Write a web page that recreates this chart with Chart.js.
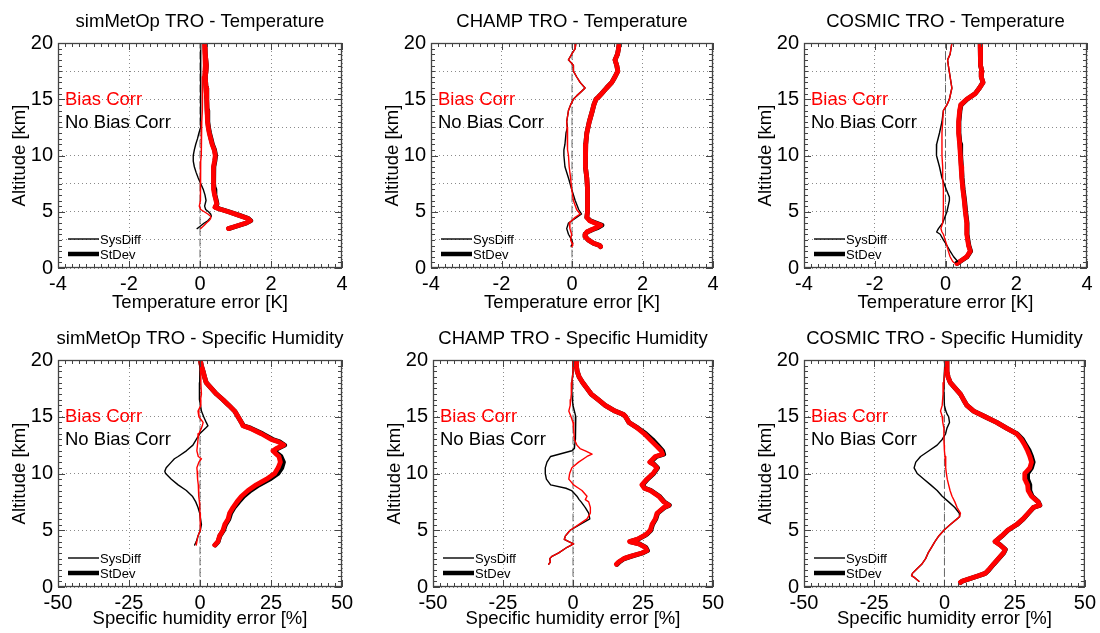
<!DOCTYPE html>
<html>
<head>
<meta charset="utf-8">
<script src="https://cdn.jsdelivr.net/npm/chart.js@4"></script>
<style>
  body { margin: 0; background: #fff; }
  #wrap { position: relative; width: 1100px; height: 633px; overflow: hidden; }
  canvas { position: absolute; }
</style>
</head>
<body>
<div id="wrap">
  <canvas id="c1" width="370" height="315" style="left:0px;top:0px"></canvas>
  <canvas id="c2" width="370" height="315" style="left:370px;top:0px"></canvas>
  <canvas id="c3" width="360" height="315" style="left:740px;top:0px"></canvas>
  <canvas id="c4" width="370" height="318" style="left:0px;top:315px"></canvas>
  <canvas id="c5" width="370" height="318" style="left:370px;top:315px"></canvas>
  <canvas id="c6" width="360" height="318" style="left:740px;top:315px"></canvas>
</div>
<script>
// simMetOp temperature
const metopT_sdAlt = [20, 19, 18, 17.5, 17, 16, 15, 14, 13, 12.5, 12, 11.5, 11, 10.5, 10, 9.5, 9, 8, 7.5, 7, 6.5, 6, 5.7, 5.4, 5.25, 5.0, 4.7, 4.4, 4.2, 4.0, 3.8, 3.6, 3.5];
const metopT_sdBias = [0.14, 0.15, 0.18, 0.17, 0.15, 0.17, 0.19, 0.2, 0.21, 0.23, 0.26, 0.3, 0.34, 0.4, 0.43, 0.41, 0.38, 0.37, 0.38, 0.39, 0.41, 0.45, 0.47, 0.42, 0.55, 0.8, 1.08, 1.35, 1.42, 1.3, 1.1, 0.9, 0.8];
const metopT_sdNoBias = [0.14, 0.15, 0.18, 0.17, 0.15, 0.17, 0.19, 0.2, 0.22, 0.24, 0.27, 0.31, 0.35, 0.41, 0.44, 0.42, 0.39, 0.38, 0.39, 0.4, 0.42, 0.46, 0.48, 0.43, 0.56, 0.81, 1.09, 1.36, 1.43, 1.31, 1.11, 0.91, 0.81];
const metopT_sysAlt = [20, 19, 18, 17, 16, 15, 14, 13, 12.5, 12, 11.5, 11, 10.5, 10, 9.5, 9, 8.5, 8, 7.5, 7, 6.5, 6, 5.5, 5.2, 5.0, 4.8, 4.6, 4.4, 4.2, 4.0, 3.8, 3.6, 3.5];
const metopT_sysBias = [0.08, 0.09, 0.1, 0.08, 0.07, 0.07, 0.06, 0.05, 0.05, 0.04, 0.04, 0.03, 0.03, 0.03, 0.02, 0.02, 0.02, 0.02, 0.02, 0.01, 0.0, 0.0, -0.02, 0.02, 0.12, 0.22, 0.3, 0.3, 0.25, 0.18, 0.12, 0.05, 0.02];
const metopT_sysNoBias = [0.02, 0.02, 0.02, 0.02, 0.02, 0.02, 0.02, 0.02, 0.0, -0.03, -0.07, -0.12, -0.16, -0.19, -0.19, -0.16, -0.11, -0.05, 0.02, 0.09, 0.14, 0.17, 0.13, 0.16, 0.24, 0.3, 0.32, 0.28, 0.22, 0.12, 0.04, -0.04, -0.08];

// CHAMP temperature
const champT_sdAlt = [20, 19.5, 19, 18.5, 18, 17.5, 17, 16.5, 16, 15.5, 15.2, 15, 14.5, 14, 13, 12, 11, 10, 9, 8, 7, 6, 5, 4.5, 4.2, 4.0, 3.8, 3.6, 3.4, 3.2, 3.0, 2.8, 2.5, 2.2, 2.0, 1.9];
const champT_sdBias = [1.34, 1.32, 1.29, 1.22, 1.27, 1.30, 1.22, 1.13, 0.98, 0.84, 0.75, 0.68, 0.62, 0.58, 0.49, 0.42, 0.39, 0.37, 0.39, 0.42, 0.44, 0.44, 0.44, 0.42, 0.5, 0.65, 0.82, 0.7, 0.55, 0.42, 0.38, 0.37, 0.46, 0.61, 0.79, 0.81];
const champT_sdNoBias = [1.34, 1.32, 1.29, 1.22, 1.27, 1.30, 1.22, 1.13, 0.98, 0.84, 0.75, 0.68, 0.62, 0.58, 0.49, 0.42, 0.39, 0.37, 0.39, 0.42, 0.44, 0.44, 0.44, 0.42, 0.52, 0.68, 0.85, 0.74, 0.57, 0.43, 0.38, 0.37, 0.46, 0.61, 0.79, 0.81];
const champT_sysAlt = [20, 19.5, 19, 18.5, 18.2, 18, 17.5, 17, 16.5, 16, 15.7, 15.3, 15, 14.5, 14, 13, 12.5, 12, 11, 10.5, 10, 9, 8, 7, 6, 5.2, 4.8, 4.5, 4, 3.5, 3, 2.5, 2.2, 2, 1.9];
const champT_sysBias = [0.11, 0.09, -0.01, -0.10, -0.01, 0.04, 0.04, 0.13, 0.23, 0.37, 0.27, 0.13, 0.04, -0.04, -0.10, -0.15, -0.14, -0.13, -0.13, -0.12, -0.10, -0.08, -0.04, -0.01, 0.04, 0.13, 0.23, 0.09, -0.08, -0.06, -0.01, -0.04, 0.0, 0.02, -0.01];
const champT_sysNoBias = [0.11, 0.09, -0.01, -0.10, -0.01, 0.04, 0.04, 0.13, 0.23, 0.37, 0.27, 0.13, 0.04, -0.04, -0.10, -0.15, -0.13, -0.17, -0.2, -0.23, -0.23, -0.2, -0.1, -0.01, 0.09, 0.19, 0.27, 0.13, -0.1, -0.15, -0.1, -0.01, 0.02, -0.01, -0.02];

// COSMIC temperature
const cosmicT_sdAlt = [20, 19, 18, 17.5, 17, 16.5, 16, 15.5, 15, 14.5, 14, 13, 12, 11, 10, 9, 8, 7, 6, 5, 4, 3, 2, 1.5, 1, 0.7, 0.4];
const cosmicT_sdBias = [0.98, 1.0, 0.98, 1.03, 1.01, 1.06, 0.96, 0.84, 0.60, 0.43, 0.40, 0.37, 0.37, 0.40, 0.42, 0.44, 0.46, 0.49, 0.53, 0.56, 0.60, 0.60, 0.65, 0.70, 0.60, 0.46, 0.32];
const cosmicT_sdNoBias = [0.98, 1.0, 0.98, 1.03, 1.01, 1.06, 0.96, 0.84, 0.61, 0.44, 0.41, 0.38, 0.38, 0.41, 0.43, 0.45, 0.47, 0.5, 0.54, 0.57, 0.61, 0.61, 0.66, 0.71, 0.61, 0.47, 0.33];
const cosmicT_sysAlt = [20, 19, 18.5, 18, 17, 16, 15, 14.5, 14, 13, 12, 11, 10.5, 10, 9, 8, 7, 6.3, 6, 5, 4, 3.5, 3.2, 3, 2.5, 2, 1.5, 1, 0.6, 0.5];
const cosmicT_sysBias = [0.18, 0.13, 0.06, 0.08, 0.13, 0.18, 0.11, 0.04, -0.06, -0.08, -0.10, -0.10, -0.10, -0.10, -0.08, -0.08, -0.06, -0.06, -0.06, -0.06, -0.08, -0.13, -0.1, -0.06, -0.01, 0.04, 0.08, 0.13, 0.2, 0.23];
const cosmicT_sysNoBias = [0.18, 0.13, 0.06, 0.08, 0.13, 0.18, 0.11, 0.04, -0.06, -0.10, -0.17, -0.25, -0.26, -0.25, -0.17, -0.10, 0.02, 0.11, 0.11, 0.04, -0.08, -0.20, -0.25, -0.15, -0.06, 0.04, 0.13, 0.23, 0.34, 0.27];

// simMetOp specific humidity
const metopQ_sdAlt = [20, 19.5, 19, 18.5, 18, 17.5, 17, 16.5, 16, 15.5, 15, 14.5, 14.2, 14, 13.5, 13, 12.8, 12.5, 12.2, 12, 11.7, 11.5, 11, 10.5, 10, 9.5, 9, 8.5, 8, 7.5, 7, 6.5, 6, 5.5, 5, 4.5, 4, 3.7];
const metopQ_sdBias = [0.1, 0.5, 1.1, 1.6, 2.2, 4.0, 5.8, 8.1, 10.2, 12.2, 13.4, 14.6, 15.1, 17.5, 21.6, 25.1, 27.5, 29.5, 26.9, 25.7, 26.9, 27.8, 28.3, 27.5, 26.3, 23.4, 19.8, 16.9, 14.6, 13.0, 11.6, 10.4, 9.9, 8.7, 8.1, 6.9, 6.3, 5.2];
const metopQ_sdNoBias = [0.1, 0.5, 1.1, 1.6, 2.2, 4.0, 5.8, 8.1, 10.2, 12.2, 13.4, 14.6, 15.3, 17.8, 22.0, 25.6, 28.0, 29.8, 27.3, 26.2, 27.5, 28.5, 29.4, 28.8, 27.4, 24.5, 20.8, 17.8, 15.4, 13.6, 12.0, 10.8, 10.2, 9.0, 8.3, 7.0, 6.4, 5.3];
const metopQ_sysAlt = [20, 18, 17, 16.5, 16, 15.5, 15, 14.5, 14.2, 14, 13.5, 13, 12.5, 12, 11.5, 11.3, 11, 10.5, 10.2, 10, 9.5, 9, 8.5, 8, 7.5, 7, 6.5, 6, 5.5, 5, 4.5, 4, 3.7];
const metopQ_sysBias = [0, 0.3, 0.5, 0.2, 0.3, -0.7, -0.4, 1.1, 0.8, 0.5, -0.4, -0.7, -0.9, -1.1, -0.6, 0.5, -0.4, -1.1, -1.0, -0.9, -0.8, -0.6, -0.5, -0.4, -0.2, -0.1, 0.0, 0.1, 0.2, 0.1, -0.7, -1.1, -1.3];
const metopQ_sysNoBias = [0, -0.1, -0.1, -0.3, 0.2, 0.5, 1.3, 2.2, 2.8, 2.0, -0.1, -1.3, -2.5, -4.8, -7.7, -9.0, -10.1, -11.9, -12.4, -12.1, -10.1, -7.7, -4.8, -2.7, -1.5, -0.7, -0.1, 0.2, 0.5, 0.1, -0.7, -1.3, -1.9];

// CHAMP specific humidity
const champQ_sdAlt = [20, 19.5, 19, 18.5, 18, 17.5, 17, 16.5, 16, 15.5, 15.2, 15, 14.5, 14, 13.5, 13, 12.5, 12, 11.7, 11.5, 11, 10.8, 10.5, 10, 9.5, 9, 8.7, 8.5, 8, 7.5, 7.2, 7, 6.5, 6, 5.5, 5, 4.7, 4.5, 4.2, 4, 3.8, 3.5, 3.2, 3, 2.7, 2.5, 2.2, 2];
const champQ_sdBias = [1.4, 1.2, 1.5, 2.2, 3.5, 5.0, 6.5, 9.0, 11.5, 15.0, 18.0, 18.8, 20.0, 23.0, 25.5, 27.5, 29.5, 31.5, 32.0, 29.4, 27.4, 28.8, 30.0, 28.6, 26.4, 24.6, 25.5, 27.6, 30.6, 32.4, 34.2, 32.4, 30.0, 29.4, 28.2, 27.6, 26.4, 25.2, 22.9, 20.2, 23.5, 25.8, 26.4, 24.6, 20.5, 18.1, 16.3, 15.5];
const champQ_sdNoBias = [1.4, 1.2, 1.5, 2.2, 3.5, 5.0, 6.5, 9.0, 11.5, 15.0, 18.0, 18.8, 20.0, 23.2, 26.0, 28.3, 30.2, 32.0, 32.4, 29.8, 27.6, 29.0, 30.2, 28.8, 26.6, 24.8, 25.7, 27.8, 30.8, 32.6, 34.4, 32.6, 30.2, 29.6, 28.4, 27.8, 26.6, 25.4, 23.1, 20.4, 23.7, 26.0, 26.6, 24.8, 20.7, 18.3, 16.5, 15.7];
const champQ_sysAlt = [20, 19, 18, 17, 16.5, 16, 15.5, 15, 14.5, 14, 13, 12.5, 12.2, 12, 11.7, 11.5, 11, 10.5, 10, 9.5, 9, 8.7, 8.5, 8, 7.7, 7.5, 7, 6.5, 6, 5.5, 5, 4.5, 4.2, 4, 3.8, 3.5, 3, 2.7, 2.5, 2.2, 2];
const champQ_sysBias = [0.2, 0, -0.4, -0.6, -0.8, -1.0, -1.5, -0.7, 0, 0.2, 0.5, 1.4, 2.5, 4.4, 6.8, 5.0, 2.0, -0.4, -1.2, -1.5, 0.2, 2.0, 3.2, 5.0, 4.4, 5.6, 6.2, 6.2, 5.0, 2.0, -1.0, -2.7, -3.1, -1.5, 0.2, -2.1, -5.1, -7.5, -8.3, -8.1, -8.7];
const champQ_sysNoBias = [0.2, 0, -0.4, -0.4, -0.2, 0.0, 0.5, 1.0, 0.8, 1.0, 0.8, 0.6, 0.5, -0.4, -5.0, -8.0, -9.3, -9.9, -9.9, -9.5, -8.0, -2.5, -0.5, 1.4, 2.2, 2.9, 4.4, 5.6, 6.0, 2.4, -1.0, -2.7, -3.1, -1.5, 0.2, -2.1, -5.1, -7.5, -8.3, -8.1, -8.7];

// COSMIC specific humidity
const cosmicQ_sdAlt = [20, 19.5, 19, 18.5, 18, 17.5, 17, 16.5, 16, 15.5, 15, 14.5, 14, 13.5, 13, 12.5, 12, 11.5, 11, 10.5, 10, 9.5, 9, 8.5, 8, 7.5, 7.2, 7, 6.5, 6, 5.5, 5, 4.5, 4, 3.7, 3.3, 3, 2.5, 2, 1.5, 1.2, 1, 0.7, 0.5, 0.4];
const cosmicQ_sdBias = [0.6, 0.9, 0.9, 1.3, 2.1, 3.9, 5.7, 6.8, 8.0, 10.4, 14.5, 18.6, 22.1, 25.7, 27.4, 28.6, 29.6, 30.4, 31.0, 30.4, 28.6, 28.6, 29.6, 29.8, 31.0, 33.3, 33.9, 31.6, 29.8, 28.0, 25.7, 22.5, 20.4, 18.0, 19.8, 21.6, 21.0, 19.2, 17.4, 15.7, 14.5, 12.1, 8.6, 6.2, 5.7];
const cosmicQ_sdNoBias = [0.6, 0.9, 0.9, 1.3, 2.1, 3.9, 5.7, 6.8, 8.0, 10.4, 14.5, 18.6, 22.1, 25.9, 27.8, 29.0, 30.2, 31.0, 31.6, 31.0, 29.6, 29.6, 30.4, 30.4, 31.2, 33.4, 34.0, 31.7, 29.9, 28.1, 25.8, 22.6, 20.5, 18.1, 19.9, 21.7, 21.1, 19.3, 17.5, 15.8, 14.6, 12.2, 8.7, 6.3, 5.8];
const cosmicQ_sysAlt = [20, 19, 18, 17, 16, 15.5, 15.2, 15, 14.5, 14, 13.5, 13, 12.5, 12, 11.5, 11, 10.5, 10, 9.5, 9, 8.5, 8, 7.5, 7, 6.5, 6.2, 6, 5.5, 5, 4.5, 4, 3.5, 3, 2.5, 2, 1.5, 1.2, 1, 0.8, 0.5];
const cosmicQ_sysBias = [0.4, 0.1, -0.2, -0.5, -0.8, -1.4, -1.0, -0.8, -0.6, -0.2, -0.2, -0.2, -0.1, 0, 0.2, 0.4, 0.5, 0.7, 1.0, 1.5, 2.0, 2.7, 3.7, 4.5, 5.7, 5.4, 4.5, 2.1, -0.2, -2.0, -3.4, -4.6, -5.8, -6.7, -8.1, -10.2, -11.4, -11.7, -10.5, -9.1];
const cosmicQ_sysNoBias = [0.2, 0, -0.2, -0.2, 0, 0.5, 1.0, 1.5, 1.8, 0.9, 0.4, -0.8, -2.6, -5.5, -8.5, -10.2, -10.8, -9.7, -7.3, -4.9, -2.6, -0.8, 1.5, 3.7, 5.3, 5.4, 4.5, 2.1, -0.2, -2.0, -3.4, -4.6, -5.8, -6.7, -8.1, -10.2, -11.4, -11.7, -10.5, -9.1];

const altRange = [0, 20];
const tempTicks = [-4, 4, 2];     // min, max, step
const humTicks = [-50, 50, 25];

const FONT = "'Liberation Sans', Arial, sans-serif";
Chart.defaults.font.family = FONT;
Chart.defaults.color = "#000";

const RED = "#ff0000";
const BLACK = "#000000";

function toPoints(alt, vals) {
    return alt.map((a, i) => ({ x: vals[i], y: a }));
}

// title, box, inner ticks and the in-plot legend texts
const framePlugin = {
    id: "frame",
    afterDraw(chart, args, opts) {
        const { ctx, chartArea: a, scales } = chart;
        const x = scales.x;
        const y = scales.y;
        ctx.save();

        ctx.font = "18.5px " + FONT;
        ctx.textBaseline = "middle";
        ctx.textAlign = "center";
        ctx.fillStyle = BLACK;
        ctx.fillText(opts.title, (a.left + a.right) / 2, a.top - 21);

        ctx.strokeStyle = "#444";
        ctx.lineWidth = 1;
        ctx.beginPath();
        const nx = Math.round((x.max - x.min) / opts.xMinor);
        for (let i = 0; i <= nx; i++) {
            const v = x.min + i * opts.xMinor;
            const px = Math.round(x.getPixelForValue(v)) + 0.5;
            const len = Math.abs(v / opts.xMajor - Math.round(v / opts.xMajor)) < 1e-6 ? 7 : 4;
            ctx.moveTo(px, a.bottom);
            ctx.lineTo(px, a.bottom - len);
            ctx.moveTo(px, a.top);
            ctx.lineTo(px, a.top + len);
        }
        const ny = Math.round((y.max - y.min) / 0.5);
        for (let i = 0; i <= ny; i++) {
            const v = y.min + i * 0.5;
            const py = Math.round(y.getPixelForValue(v)) + 0.5;
            const len = v % 5 === 0 ? 7 : 4;
            ctx.moveTo(a.left, py);
            ctx.lineTo(a.left + len, py);
            ctx.moveTo(a.right, py);
            ctx.lineTo(a.right - len, py);
        }
        ctx.stroke();
        ctx.lineWidth = 1.3;
        ctx.strokeRect(a.left + 0.5, a.top + 0.5, a.right - a.left - 1, a.bottom - a.top - 1);

        // Bias Corr / No Bias Corr
        ctx.font = "18.5px " + FONT;
        ctx.textAlign = "left";
        ctx.fillStyle = RED;
        ctx.fillText("Bias Corr", a.left + 7, a.top + 57);
        ctx.fillStyle = BLACK;
        ctx.fillText("No Bias Corr", a.left + 7, a.top + 80);

        // SysDiff / StDev key
        ctx.strokeStyle = BLACK;
        ctx.lineWidth = 1.4;
        ctx.beginPath();
        ctx.moveTo(a.left + 10, a.bottom - 29);
        ctx.lineTo(a.left + 41, a.bottom - 29);
        ctx.stroke();
        ctx.lineWidth = 4.5;
        ctx.beginPath();
        ctx.moveTo(a.left + 10, a.bottom - 14);
        ctx.lineTo(a.left + 41, a.bottom - 14);
        ctx.stroke();
        ctx.font = "13px " + FONT;
        ctx.fillText("SysDiff", a.left + 42, a.bottom - 28);
        ctx.fillText("StDev", a.left + 42, a.bottom - 13);
        ctx.restore();
    },
};

function makePanel(p) {
    const canvas = document.getElementById(p.id);
    const w = canvas.width;
    const h = canvas.height;
    const [xmin, xmax, xstep] = p.ticks;
    const datasets = [
        { data: toPoints(p.sysAlt, p.sysBias), borderColor: RED, borderWidth: 1.4 },
        { data: toPoints(p.sysAlt, p.sysNoBias), borderColor: BLACK, borderWidth: 1.4 },
        { data: toPoints(p.sdAlt, p.sdBias), borderColor: RED, borderWidth: 4.8 },
        { data: toPoints(p.sdAlt, p.sdNoBias), borderColor: BLACK, borderWidth: 4.8 },
        {
            data: altRange.map((a) => ({ x: 0, y: a })),
            borderColor: "#666",
            borderWidth: 1,
            borderDash: [7, 4],
        },
    ].map((d) => ({
        ...d,
        showLine: true,
        pointRadius: 0,
        fill: false,
        tension: 0,
        borderJoinStyle: "round",
        borderCapStyle: "round",
    }));

    return new Chart(canvas, {
        type: "scatter",
        data: { datasets: datasets },
        plugins: [framePlugin],
        options: {
            responsive: false,
            animation: false,
            events: [],
            layout: { padding: { left: 0, right: w - p.right, top: p.top, bottom: 0 } },
            plugins: {
                legend: { display: false },
                tooltip: { enabled: false },
                frame: { title: p.title, xMinor: p.xMinor, xMajor: xstep },
            },
            scales: {
                x: {
                    type: "linear",
                    min: xmin,
                    max: xmax,
                    afterFit: (s) => {
                        s.height = h - p.bottom;
                    },
                    ticks: {
                        stepSize: xstep,
                        padding: 4,
                        maxRotation: 0,
                        autoSkip: false,
                        color: "#000",
                        font: { size: 20 },
                    },
                    grid: { color: "#8a8a8a", lineWidth: 1, drawTicks: false },
                    border: { display: false, dash: [1, 3] },
                    title: {
                        display: true,
                        text: p.xTitle,
                        color: "#000",
                        font: { size: 18.5 },
                        padding: { top: 0, bottom: p.xTitleBottom },
                    },
                },
                y: {
                    type: "linear",
                    min: altRange[0],
                    max: altRange[1],
                    afterFit: (s) => {
                        s.width = p.left;
                    },
                    ticks: {
                        stepSize: p.yGrid,
                        padding: 5,
                        autoSkip: false,
                        color: "#000",
                        font: { size: 20 },
                        callback: (v) => (v % 5 === 0 ? v : ""),
                    },
                    grid: { color: "#8a8a8a", lineWidth: 1, drawTicks: false },
                    border: { display: false, dash: [1, 3] },
                    title: {
                        display: true,
                        text: "Altitude [km]",
                        color: "#000",
                        font: { size: 18.5 },
                        padding: { top: p.left - 38 - 11, bottom: 0 },
                    },
                },
            },
        },
    });
}

const tTitle = "Temperature error [K]";
const qTitle = "Specific humidity error [%]";

makePanel({ id: "c1", title: "simMetOp TRO - Temperature", xTitle: tTitle, ticks: tempTicks, xMinor: 0.2, yGrid: 2.5,
    left: 58, right: 342, top: 43, bottom: 268, xTitleBottom: 1,
    sdAlt: metopT_sdAlt, sdBias: metopT_sdBias, sdNoBias: metopT_sdNoBias,
    sysAlt: metopT_sysAlt, sysBias: metopT_sysBias, sysNoBias: metopT_sysNoBias });
makePanel({ id: "c2", title: "CHAMP TRO - Temperature", xTitle: tTitle, ticks: tempTicks, xMinor: 0.2, yGrid: 2.5,
    left: 61, right: 343, top: 43, bottom: 268, xTitleBottom: 1,
    sdAlt: champT_sdAlt, sdBias: champT_sdBias, sdNoBias: champT_sdNoBias,
    sysAlt: champT_sysAlt, sysBias: champT_sysBias, sysNoBias: champT_sysNoBias });
makePanel({ id: "c3", title: "COSMIC TRO - Temperature", xTitle: tTitle, ticks: tempTicks, xMinor: 0.2, yGrid: 2.5,
    left: 64, right: 347, top: 43, bottom: 268, xTitleBottom: 1,
    sdAlt: cosmicT_sdAlt, sdBias: cosmicT_sdBias, sdNoBias: cosmicT_sdNoBias,
    sysAlt: cosmicT_sysAlt, sysBias: cosmicT_sysBias, sysNoBias: cosmicT_sysNoBias });
makePanel({ id: "c4", title: "simMetOp TRO - Specific Humidity", xTitle: qTitle, ticks: humTicks, xMinor: 2.5, yGrid: 5,
    left: 58, right: 342, top: 45, bottom: 272, xTitleBottom: 3,
    sdAlt: metopQ_sdAlt, sdBias: metopQ_sdBias, sdNoBias: metopQ_sdNoBias,
    sysAlt: metopQ_sysAlt, sysBias: metopQ_sysBias, sysNoBias: metopQ_sysNoBias });
makePanel({ id: "c5", title: "CHAMP TRO - Specific Humidity", xTitle: qTitle, ticks: humTicks, xMinor: 2.5, yGrid: 5,
    left: 63, right: 343, top: 45, bottom: 272, xTitleBottom: 3,
    sdAlt: champQ_sdAlt, sdBias: champQ_sdBias, sdNoBias: champQ_sdNoBias,
    sysAlt: champQ_sysAlt, sysBias: champQ_sysBias, sysNoBias: champQ_sysNoBias });
makePanel({ id: "c6", title: "COSMIC TRO - Specific Humidity", xTitle: qTitle, ticks: humTicks, xMinor: 2.5, yGrid: 5,
    left: 64, right: 347, top: 45, bottom: 272, xTitleBottom: 3,
    sdAlt: cosmicQ_sdAlt, sdBias: cosmicQ_sdBias, sdNoBias: cosmicQ_sdNoBias,
    sysAlt: cosmicQ_sysAlt, sysBias: cosmicQ_sysBias, sysNoBias: cosmicQ_sysNoBias });
</script>
</body>
</html>
